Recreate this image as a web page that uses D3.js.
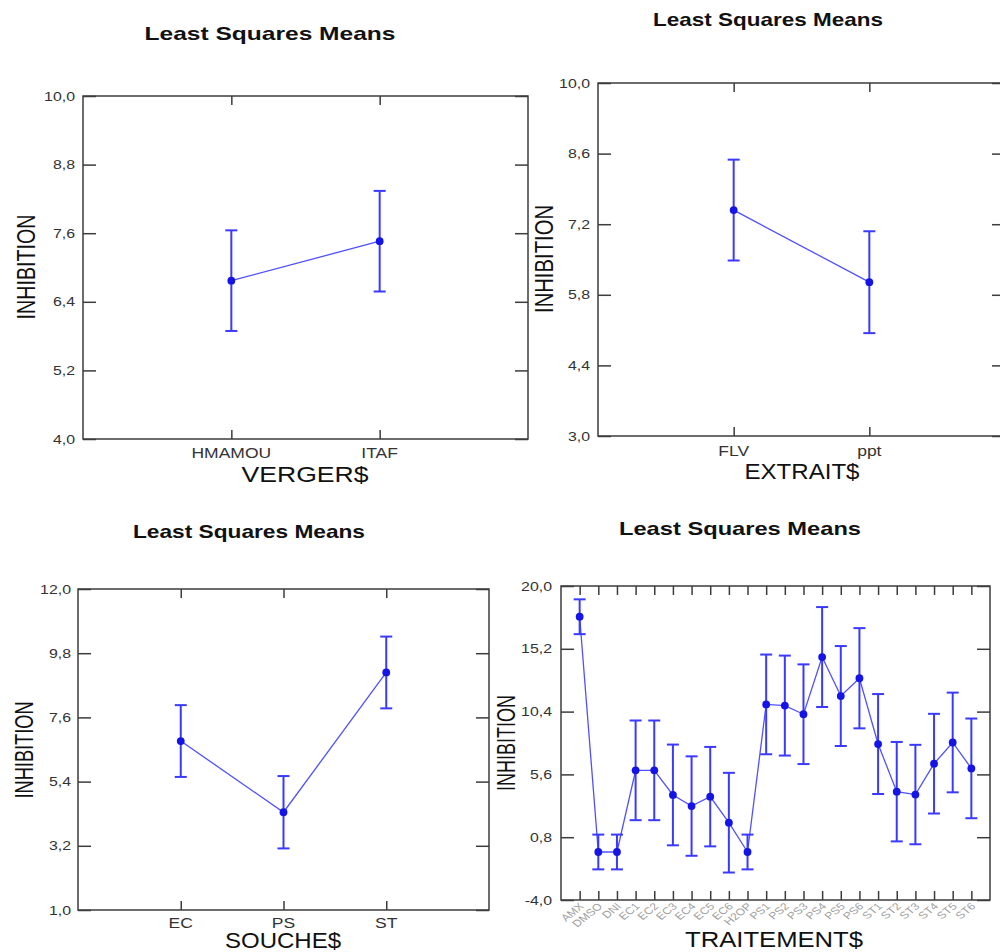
<!DOCTYPE html>
<html><head><meta charset="utf-8">
<script src="https://cdn.jsdelivr.net/npm/d3@7"></script>
<style>body{margin:0;background:#fff} text{font-family:"Liberation Sans",Arial,sans-serif}</style>
</head><body>
<svg id="c" width="1000" height="952"></svg>
<script>
// ---------- DATA ----------
const vergerCats = ["HMAMOU", "ITAF"];
const vergerMeans = [6.77, 7.46];
const vergerErr = [0.88, 0.88];
const vergerTicks = [4.0, 5.2, 6.4, 7.6, 8.8, 10.0];

const extraitCats = ["FLV", "ppt"];
const extraitMeans = [7.48, 6.05];
const extraitErr = [1.0, 1.01];
const extraitTicks = [3.0, 4.4, 5.8, 7.2, 8.6, 10.0];

const soucheCats = ["EC", "PS", "ST"];
const soucheMeans = [6.79, 4.35, 9.14];
const soucheErr = [1.23, 1.24, 1.23];
const soucheTicks = [1.0, 3.2, 5.4, 7.6, 9.8, 12.0];

const traitCats = ["AMX","DMSO","DNI","EC1","EC2","EC3","EC4","EC5","EC6","H2OP",
  "PS1","PS2","PS3","PS4","PS5","PS6","ST1","ST2","ST3","ST4","ST5","ST6"];
const traitMeans = [17.65, -0.33, -0.33, 5.91, 5.91, 4.03, 3.18, 3.90, 1.91, -0.33,
  10.95, 10.86, 10.20, 14.57, 11.59, 12.95, 7.92, 4.28, 4.06, 6.42, 8.04, 6.06];
const traitErr = [1.33, 1.33, 1.33, 3.81, 3.81, 3.85, 3.80, 3.80, 3.81, 1.33,
  3.81, 3.82, 3.81, 3.82, 3.82, 3.83, 3.82, 3.80, 3.80, 3.81, 3.81, 3.81];
const traitTicks = [-4.0, 0.8, 5.6, 10.4, 15.2, 20.0];

const titleText = "Least Squares Means";
const yName = "INHIBITION";

// ---------- LAYOUT ----------
const panels = [
  {cats: vergerCats, means: vergerMeans, err: vergerErr, ticks: vergerTicks, xName: "VERGER$",
   box: {l: 83, r: 528, t: 96, b: 439}, title: {x: 270, y: 40, w: 251},
   yLab: {x: 35, y: 267, w: 105}, xLab: {x: 305, y: 482, w: 127}, catY: 458, pad: 8, rot: false},
  {cats: extraitCats, means: extraitMeans, err: extraitErr, ticks: extraitTicks, xName: "EXTRAIT$",
   box: {l: 598, r: 1005, t: 83, b: 436}, title: {x: 768, y: 26, w: 230},
   yLab: {x: 553, y: 259, w: 108}, xLab: {x: 802, y: 479, w: 115}, catY: 456, pad: 8, rot: false},
  {cats: soucheCats, means: soucheMeans, err: soucheErr, ticks: soucheTicks, xName: "SOUCHE$",
   box: {l: 78, r: 489, t: 589, b: 910}, title: {x: 249, y: 538, w: 232},
   yLab: {x: 33, y: 750, w: 97}, xLab: {x: 283, y: 948, w: 116}, catY: 928, pad: 7, rot: false},
  {cats: traitCats, means: traitMeans, err: traitErr, ticks: traitTicks, xName: "TRAITEMENT$",
   box: {l: 561, r: 990, t: 586, b: 900}, title: {x: 740, y: 535, w: 242},
   yLab: {x: 515, y: 743, w: 96}, xLab: {x: 774, y: 947, w: 178}, catY: 907, pad: 9, rot: true}
];

const svg = d3.select("#c");
const fmt = v => d3.format(".1f")(v).replace(".", ",").replace("−", "-");
const frameCol = "#3c3c3c";
function stretch(sel, f) {
  sel.each(function () {
    const L = this.getComputedTextLength();
    d3.select(this).attr("textLength", L * f).attr("lengthAdjust", "spacingAndGlyphs");
  });
}

panels.forEach(p => {
  const {l, r, t, b} = p.box;
  const x = d3.scalePoint().domain(p.cats).range([l, r]).padding(1);
  const y = d3.scaleLinear().domain([p.ticks[0], p.ticks[p.ticks.length - 1]]).range([b, t]);
  const g = svg.append("g");

  // axes (inward ticks)
  const aL = g.append("g").attr("transform", `translate(${l},0)`)
    .call(d3.axisLeft(y).tickValues(p.ticks).tickFormat(fmt).tickSizeInner(-13).tickSizeOuter(0).tickPadding(p.pad));
  const aR = g.append("g").attr("transform", `translate(${r},0)`)
    .call(d3.axisRight(y).tickValues(p.ticks).tickFormat("").tickSizeInner(-13).tickSizeOuter(0));
  const aT = g.append("g").attr("transform", `translate(0,${t})`)
    .call(d3.axisTop(x).tickFormat("").tickSizeInner(-9).tickSizeOuter(0));
  const aB = g.append("g").attr("transform", `translate(0,${b})`)
    .call(d3.axisBottom(x).tickFormat("").tickSizeInner(-9).tickSizeOuter(0));
  [aL, aR, aT, aB].forEach(a => {
    a.select(".domain").remove();
    a.selectAll(".tick line").attr("stroke", frameCol).attr("stroke-width", 1.5);
  });
  aL.selectAll(".tick text").attr("font-size", 12.5).attr("fill", "#333")
    .attr("font-family", "Liberation Sans, Arial, sans-serif");
  stretch(aL.selectAll(".tick text"), 1.27);

  g.append("rect").attr("x", l).attr("y", t).attr("width", r - l).attr("height", b - t)
    .attr("fill", "none").attr("stroke", frameCol).attr("stroke-width", 1.5);

  // category labels
  if (!p.rot) {
    const ct = g.selectAll(".cat").data(p.cats).enter().append("text")
      .attr("x", d => x(d)).attr("y", p.catY).attr("text-anchor", "middle")
      .attr("font-size", 14).attr("fill", "#333").text(d => d);
    stretch(ct, 1.25);
  } else {
    g.selectAll(".cat").data(p.cats).enter().append("text")
      .attr("transform", d => `translate(${x(d) + 5},${p.catY}) scale(1.25,1) rotate(-45)`)
      .attr("text-anchor", "end").attr("font-size", 9.8).attr("fill", "#a0a0a0").text(d => d);
  }

  // data
  const pts = p.cats.map((c, i) => ({c, m: p.means[i], e: p.err[i]}));
  g.append("path").datum(pts)
    .attr("d", d3.line().x(d => x(d.c)).y(d => y(d.m)))
    .attr("fill", "none").attr("stroke", "#5050ff").attr("stroke-width", 1.3);
  const eb = g.selectAll(".eb").data(pts).enter().append("g");
  eb.append("line").attr("x1", d => x(d.c)).attr("x2", d => x(d.c))
    .attr("y1", d => y(d.m + d.e)).attr("y2", d => y(d.m - d.e));
  eb.append("line").attr("x1", d => x(d.c) - 6).attr("x2", d => x(d.c) + 6)
    .attr("y1", d => y(d.m + d.e)).attr("y2", d => y(d.m + d.e));
  eb.append("line").attr("x1", d => x(d.c) - 6).attr("x2", d => x(d.c) + 6)
    .attr("y1", d => y(d.m - d.e)).attr("y2", d => y(d.m - d.e));
  eb.selectAll("line").attr("stroke", "#3a3aff").attr("stroke-width", 2);
  g.selectAll(".pt").data(pts).enter().append("circle")
    .attr("cx", d => x(d.c)).attr("cy", d => y(d.m)).attr("r", 3.9).attr("fill", "#1414e6");

  // titles and axis names
  g.append("text").attr("x", p.title.x).attr("y", p.title.y).attr("text-anchor", "middle")
    .attr("font-size", 19).attr("font-weight", "bold").attr("fill", "#111")
    .attr("textLength", p.title.w).attr("lengthAdjust", "spacingAndGlyphs").text(titleText);
  g.append("text").attr("transform", `translate(${p.yLab.x},${p.yLab.y}) rotate(-90) scale(1,1.3)`)
    .attr("text-anchor", "middle").attr("font-size", 20).attr("fill", "#111")
    .attr("textLength", p.yLab.w).attr("lengthAdjust", "spacingAndGlyphs").text(yName);
  g.append("text").attr("x", p.xLab.x).attr("y", p.xLab.y).attr("text-anchor", "middle")
    .attr("font-size", 21.5).attr("fill", "#111")
    .attr("textLength", p.xLab.w).attr("lengthAdjust", "spacingAndGlyphs").text(p.xName);
});
</script>
</body></html>
